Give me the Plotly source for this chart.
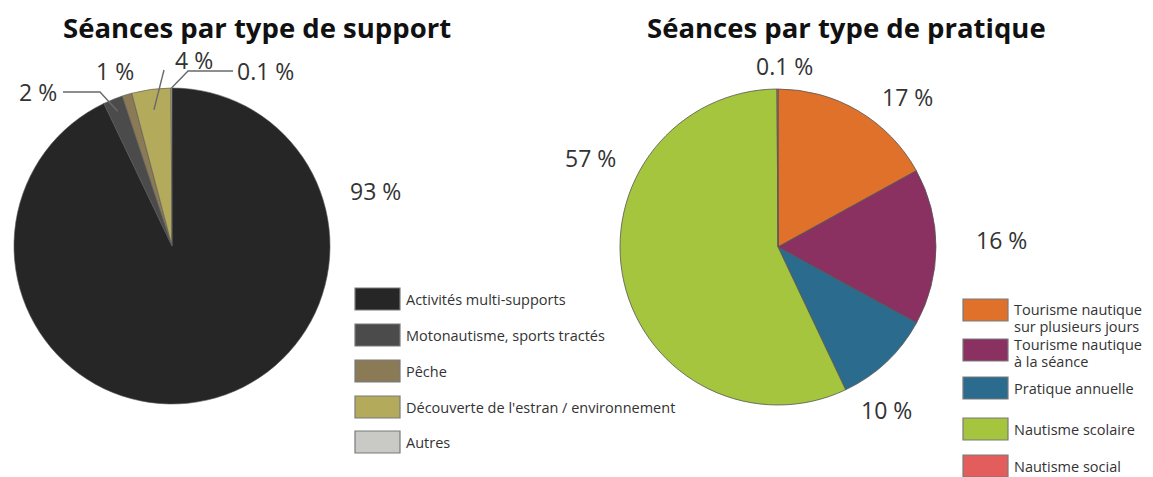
import math
import plotly.graph_objects as go

# ---------------- data ----------------
support_labels = ["Activités multi-supports", "Motonautisme, sports tractés", "Pêche",
                  "Découverte de l'estran / environnement", "Autres"]
support_values = [93, 2, 1, 4, 0.1]
support_colors = ["#262626", "#4b4b4b", "#8a7a56", "#b4aa5c", "#c9c9c5"]

pratique_labels = ["Tourisme nautique<br>sur plusieurs jours", "Tourisme nautique<br>à la séance",
                   "Pratique annuelle", "Nautisme scolaire", "Nautisme social"]
pratique_values = [17, 16, 10, 57, 0.1]
pratique_colors = ["#e0712a", "#8b3162", "#2b6b8d", "#a4c53d", "#e35d5d"]

title_left = "Séances par type de support"
title_right = "Séances par type de pratique"

# ---------------- layout geometry (pixels of the final picture) ----------------
OFF = 8                      # page body margin
W, H = 1153 - OFF, 477 - OFF
FONT = "Open Sans"
TXT = "#333333"

left_pie = dict(cx=172, cy=246, r=158)
right_pie = dict(cx=778, cy=247, r=158)

left_label_pos = [(375, 191), (38, 92), (115, 71), (194, 60), (265, 71)]
right_label_pos = [(908, 97), (1001, 240), (886, 410), (590, 158), (784, 66)]

# leader lines for small slices of the left pie: index -> (start, elbow, radius fraction)
left_leaders = {1: ((63, 92), (100, 92), 0.92),
                3: ((164, 70), None, 0.87),
                4: ((233, 71), (188, 71), 1.0)}

left_legend = dict(x0=355, w=45, h=22, yc=[299, 335, 371, 407, 442], tx=405,
                   ty=[[299], [335], [371], [407], [442]])
right_legend = dict(x0=963, w=45, h=22, yc=[310, 350, 388, 429, 466], tx=1013,
                    ty=[[309, 326], [344, 361], [388], [429], [466]])


def px(x):
    return (x - OFF) / W


def py(y):
    return 1 - (y - OFF) / H


def domain(p):
    return dict(x=[px(p["cx"] - p["r"]), px(p["cx"] + p["r"])],
                y=[py(p["cy"] + p["r"]), py(p["cy"] - p["r"])])


def fmt(v):
    return f"{v:g} %"


fig = go.Figure()
fig.add_trace(go.Pie(labels=support_labels, values=support_values, sort=False,
                     direction="clockwise", rotation=0, domain=domain(left_pie),
                     marker=dict(colors=support_colors, line=dict(color="#555555", width=0.6)),
                     textinfo="none", hoverinfo="label+percent", showlegend=False))
fig.add_trace(go.Pie(labels=pratique_labels, values=pratique_values, sort=False,
                     direction="clockwise", rotation=0, domain=domain(right_pie),
                     marker=dict(colors=pratique_colors, line=dict(color="#555555", width=0.8)),
                     textinfo="none", hoverinfo="label+percent", showlegend=False))

ann = []
shapes = []

# titles
for t, x in ((title_left, 257), (title_right, 846)):
    ann.append(dict(text=f"<b>{t}</b>", x=px(x), y=py(OFF), xref="paper", yref="paper",
                    xanchor="center", yanchor="top", showarrow=False, borderpad=0,
                    font=dict(family=FONT, size=27.5, color="#111111")))

# percentage labels
for vals, pos in ((support_values, left_label_pos), (pratique_values, right_label_pos)):
    for v, (x, y) in zip(vals, pos):
        ann.append(dict(text=fmt(v), x=px(x), y=py(y), xref="paper", yref="paper",
                        xanchor="center", yanchor="middle", showarrow=False, borderpad=0,
                        font=dict(family=FONT, size=23, color=TXT)))

# leader lines, targets computed from slice mid-angles
total = sum(support_values)
cum = 0
mids = []
for v in support_values:
    mids.append((cum + v / 2) / total * 2 * math.pi)
    cum += v
for i, (start, elbow, frac) in left_leaders.items():
    a = mids[i]
    tx = left_pie["cx"] + frac * left_pie["r"] * math.sin(a)
    ty = left_pie["cy"] - frac * left_pie["r"] * math.cos(a)
    pts = [start] + ([elbow] if elbow else []) + [(tx, ty)]
    path = "M " + " L ".join(f"{px(x):.5f},{py(y):.5f}" for x, y in pts)
    shapes.append(dict(type="path", path=path, xref="paper", yref="paper",
                       line=dict(color="#6a6a6a", width=1.4)))

# legends
for labels, colors, lg in ((support_labels, support_colors, left_legend),
                           (pratique_labels, pratique_colors, right_legend)):
    for lab, col, yc, tys in zip(labels, colors, lg["yc"], lg["ty"]):
        shapes.append(dict(type="rect", xref="paper", yref="paper",
                           x0=px(lg["x0"]), x1=px(lg["x0"] + lg["w"]),
                           y0=py(yc + lg["h"] / 2), y1=py(yc - lg["h"] / 2),
                           fillcolor=col, line=dict(color="#7a7a7a", width=1.2)))
        for line, ty in zip(lab.split("<br>"), tys):
            ann.append(dict(text=line, x=px(lg["tx"]), y=py(ty), xref="paper", yref="paper",
                            xanchor="left", yanchor="middle", align="left", showarrow=False,
                            borderpad=0,
                            font=dict(family=FONT, size=14.5, color=TXT)))

fig.update_layout(width=W, height=H, margin=dict(l=0, r=0, t=0, b=0),
                  paper_bgcolor="white", plot_bgcolor="white",
                  annotations=ann, shapes=shapes, showlegend=False)
fig.write_html("out.html")
